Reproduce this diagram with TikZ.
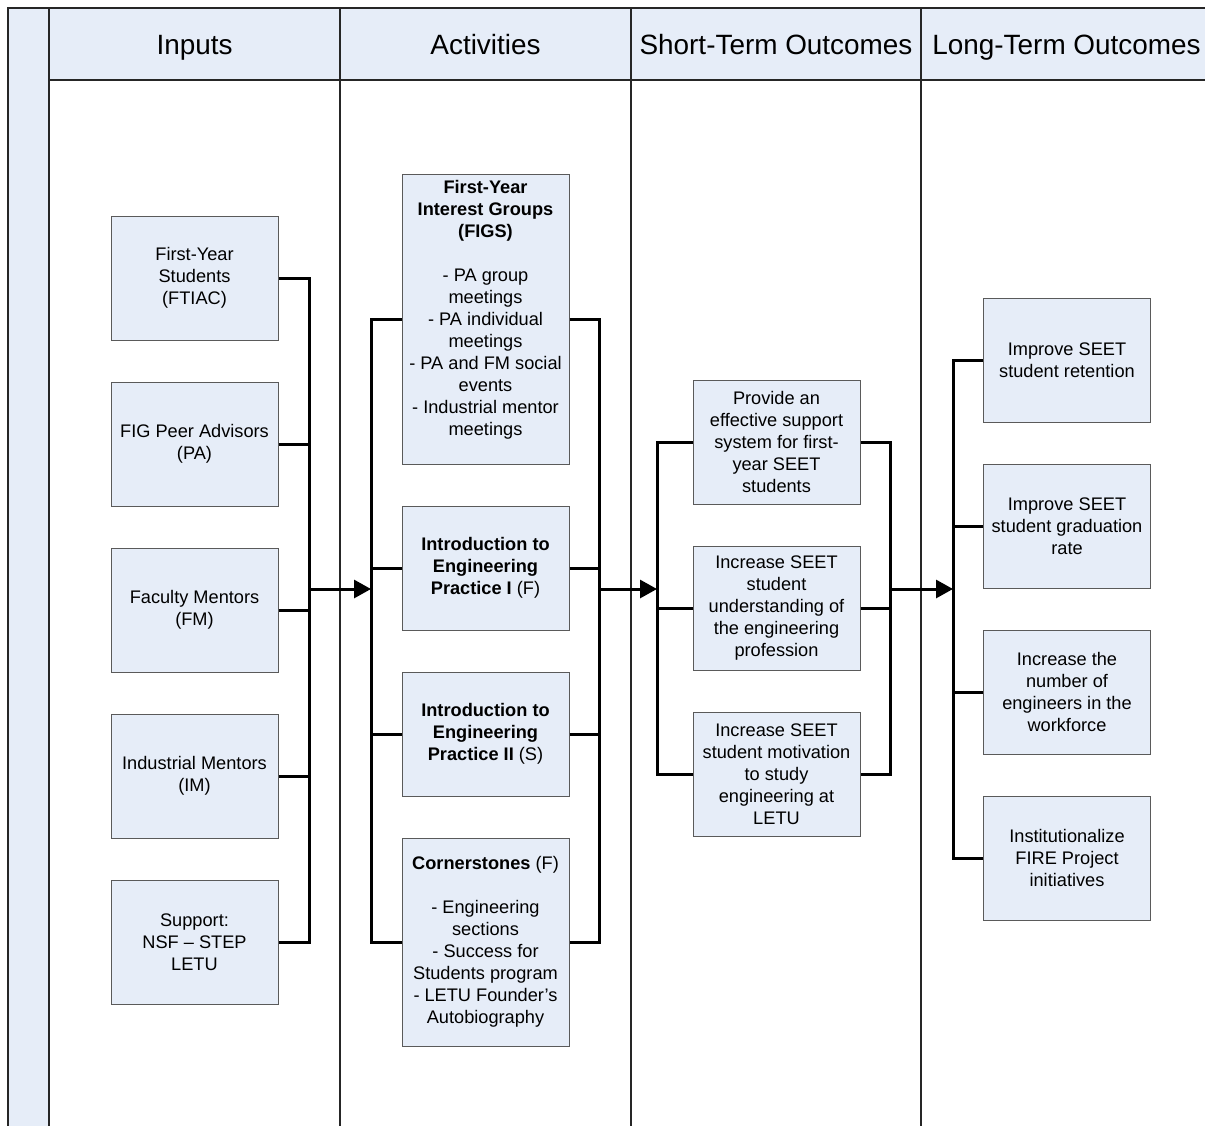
\documentclass[tikz,border=0pt]{standalone}
\usepackage{fontspec}
\setmainfont{Liberation Sans}
\usetikzlibrary{arrows.meta}
\definecolor{boxfill}{HTML}{E6EDF8}
\definecolor{boxline}{HTML}{5A5A5A}
\definecolor{framefill}{HTML}{E6EDF8}
\begin{document}
\begin{tikzpicture}[x=1pt,y=-1pt,
  box/.style={draw=boxline, line width=1pt, fill=boxfill, minimum width=167pt,
    minimum height=124pt, inner sep=0pt, align=center,
    font=\fontsize{18.2}{22}\selectfont},
  conn/.style={line width=3pt, line join=miter},
  arr/.style={line width=3pt, -{Triangle[length=17pt,width=18pt]}},
  frame/.style={line width=1.3pt, draw=black!85},
  head/.style={font=\fontsize{27.9}{32}\selectfont, inner sep=0pt, anchor=base}]
\useasboundingbox (0,0) rectangle (1205,1125);
\clip (0,0) rectangle (1205,1125);
% frame
\fill[framefill] (8,8) rectangle (49,1140);
\fill[framefill] (49,8) rectangle (1230,80);
\draw[frame] (8,1140) -- (8,8) -- (1230,8);
\draw[frame] (49,80) -- (1230,80);
\foreach \xx in {49,340,631,921}{\draw[frame] (\xx,8) -- (\xx,1140);}
% headers
\node[head] (h1) at (194.5,54) {Inputs};
\node[head] (h2) at (485.5,54) {Activities};
\node[head] (h3) at (776,54) {Short-Term Outcomes};
\node[head] (h4) at (1066.5,54) {Long-Term Outcomes};
% inputs
\node[box] (in1) at (194.5,278) {First-Year\\Students\\(FTIAC)};
\node[box] (in2) at (194.5,444) {FIG Peer Advisors\\(PA)};
\node[box] (in3) at (194.5,610) {Faculty Mentors\\(FM)};
\node[box] (in4) at (194.5,776) {Industrial Mentors\\(IM)};
\node[box] (in5) at (194.5,942) {Support:\\NSF -- STEP\\LETU};
% activities
\node[box, minimum height=290pt] (ac1) at (485.5,319) {\textbf{First-Year}\\\textbf{Interest Groups}\\\textbf{(FIGS)}\\\mbox{}\\- PA group\\meetings\\- PA individual\\meetings\\- PA and FM social\\events\\- Industrial mentor\\meetings\\\mbox{}};
\node[box] (ac2) at (485.5,568) {\textbf{Introduction to}\\\textbf{Engineering}\\\textbf{Practice I} (F)};
\node[box] (ac3) at (485.5,734) {\textbf{Introduction to}\\\textbf{Engineering}\\\textbf{Practice II} (S)};
\node[box, minimum height=208pt] (ac4) at (485.5,942) {\textbf{Cornerstones} (F)\\\mbox{}\\- Engineering\\sections\\- Success for\\Students program\\- LETU Founder’s\\Autobiography};
% short-term
\node[box] (st1) at (776.5,442) {Provide an\\effective support\\system for first-\\year SEET\\students};
\node[box] (st2) at (776.5,608) {Increase SEET\\student\\understanding of\\the engineering\\profession};
\node[box] (st3) at (776.5,774) {Increase SEET\\student motivation\\to study\\engineering at\\LETU};
% long-term
\node[box] (lt1) at (1067,360) {Improve SEET\\student retention};
\node[box] (lt2) at (1067,526) {Improve SEET\\student graduation\\rate};
\node[box] (lt3) at (1067,692) {Increase the\\number of\\engineers in the\\workforce};
\node[box] (lt4) at (1067,858) {Institutionalize\\FIRE Project\\initiatives};
% bus coordinates
\coordinate (inbus) at (309,589);
\coordinate (acL) at (371,589);
\coordinate (acR) at (599,589);
\coordinate (stL) at (657,589);
\coordinate (stR) at (890,589);
\coordinate (ltL) at (953,589);
% inputs bus
\draw[conn] (in1.east) -| (inbus) |- (in5.east);
\foreach \n in {in2,in3,in4}{\draw[conn] (\n.east) -- (\n.east -| inbus);}
\draw[arr] (inbus) -- (acL);
% activities buses
\draw[conn] (ac1.west) -| (acL) |- (ac4.west);
\foreach \n in {ac2,ac3}{\draw[conn] (\n.west) -- (\n.west -| acL);}
\draw[conn] (ac1.east) -| (acR) |- (ac4.east);
\foreach \n in {ac2,ac3}{\draw[conn] (\n.east) -- (\n.east -| acR);}
\draw[arr] (acR) -- (stL);
% short-term buses
\draw[conn] (st1.west) -| (stL) |- (st3.west);
\draw[conn] (st2.west) -- (st2.west -| stL);
\draw[conn] (st1.east) -| (stR) |- (st3.east);
\draw[conn] (st2.east) -- (st2.east -| stR);
\draw[arr] (stR) -- (ltL);
% long-term bus
\draw[conn] (lt1.west) -| (ltL) |- (lt4.west);
\foreach \n in {lt2,lt3}{\draw[conn] (\n.west) -- (\n.west -| ltL);}
\end{tikzpicture}
\end{document}
